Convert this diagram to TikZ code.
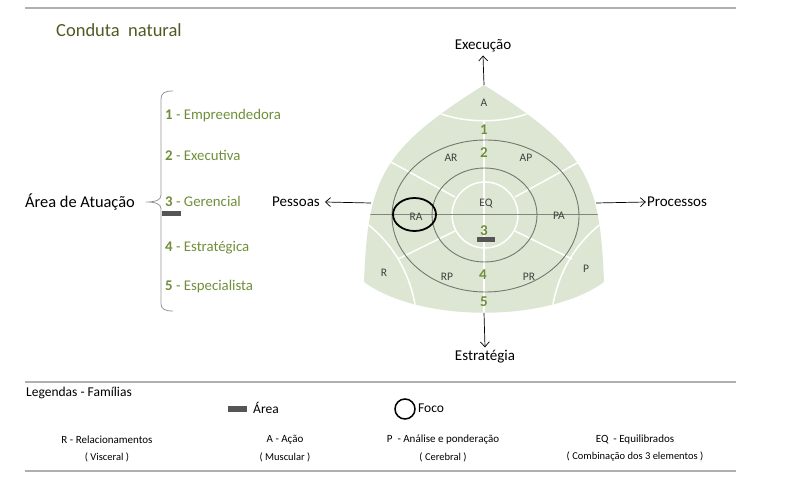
\documentclass[tikz,border=0pt]{standalone}
\usepackage{fontspec}
\setmainfont{Carlito}
\usetikzlibrary{arrows.meta}
\definecolor{shapefill}{RGB}{221,230,210}
\definecolor{lgreen}{RGB}{112,142,58}
\definecolor{dgreen}{RGB}{80,90,35}
\definecolor{ringgray}{RGB}{115,120,110}
\definecolor{rulegray}{RGB}{175,175,175}
\definecolor{bargray}{RGB}{85,85,85}
\definecolor{bracegray}{RGB}{150,150,150}
\begin{document}
\begin{tikzpicture}[x=1pt,y=-1pt,
  lab/.style={font=\fontsize{11.5}{13}\selectfont, text=black!75, inner sep=0pt},
  num/.style={font=\bfseries\fontsize{15}{16}\selectfont, text=lgreen, inner sep=0pt},
  item/.style={anchor=west, font=\fontsize{14.8}{17}\selectfont, text=lgreen, inner sep=0pt},
  axislab/.style={font=\fontsize{15}{17}\selectfont, inner sep=3pt},
  arr/.style={-{Straight Barb[length=5pt,width=9pt]}, line width=0.7pt},
  ring/.style={draw=ringgray, line width=0.9pt},
  divider/.style={draw=white, line width=1.5pt},
  rule/.style={draw=rulegray, line width=1.5pt},
  legtxt/.style={font=\fontsize{11}{13}\selectfont, inner sep=0pt},
  legsub/.style={font=\fontsize{10.5}{12}\selectfont, inner sep=0pt},
  areabar/.style={fill=bargray, draw=none}
]
\useasboundingbox (0,0) rectangle (800,486);

% rules
\draw[rule] (25,8) -- (736,8);
\draw[rule] (25,382) -- (736,382);
\draw[rule] (25,471) -- (736,471);

% title
\node[anchor=west, font=\fontsize{18.5}{21}\selectfont, text=dgreen, inner sep=0pt] (title) at (56,30) {Conduta\ \ natural};

% shape
\path[fill=shapefill] (484,85) .. controls (380,150) and (368,180) .. (364,282)
  .. controls (420,323) and (548,323) .. (604,282)
  .. controls (600,180) and (588,150) .. (484,85) -- cycle;

\begin{scope}
\clip (484,85) .. controls (380,150) and (368,180) .. (364,282)
  .. controls (420,323) and (548,323) .. (604,282)
  .. controls (600,180) and (588,150) .. (484,85) -- cycle;
\draw[divider] (428,108) .. controls (458,125) and (510,125) .. (540,108);
\draw[divider] (362,220) .. controls (390,240) and (410,270) .. (416,310);
\draw[divider] (606,220) .. controls (578,240) and (558,270) .. (552,310);
\draw[divider] (484,121) -- (484,320);
\draw[divider] (455,197) -- (380,156);
\draw[divider] (515,197) -- (590,156);
\draw[divider] (455,231) -- (398,259);
\draw[divider] (515,231) -- (572,259);
\draw[divider] (485,215) circle [radius=33pt];
\draw[draw=ringgray!90, line width=0.9pt] (350,214) -- (620,214);
\end{scope}

% rings
\draw[ring] (485.5,216) ellipse [x radius=93.5pt, y radius=76pt];
\draw[ring] (484.5,215) ellipse [x radius=52.5pt, y radius=47pt];

% labels
\node[lab] (lA) at (484,103) {A};
\node[num] (n1) at (484,130) {1};
\node[num] (n2) at (484,153) {2};
\node[lab] (lAR) at (451,158) {AR};
\node[lab] (lAP) at (526,158) {AP};
\node[lab] (lEQ) at (486,204) {EQ};
\node[lab] (lRA) at (416,217) {RA};
\node[lab] (lPA) at (559,216) {PA};
\node[num] (n3) at (484,231) {3};
\node[areabar, minimum width=18pt, minimum height=5pt, inner sep=0pt] (bar) at (486,240) {};
\node[lab] (lR) at (384,273) {R};
\node[lab] (lRP) at (447,277) {RP};
\node[num] (n4) at (483,275) {4};
\node[lab] (lPR) at (529,277) {PR};
\node[lab] (lP) at (586,269) {P};
\node[num] (n5) at (484,302) {5};

% focus
\draw[line width=1.8pt] (414.5,214.5) ellipse [x radius=21.5pt, y radius=16.5pt];

% axes
\coordinate (ctop) at (484,85);
\coordinate (cbot) at (484,313);
\coordinate (cleft) at (371,203);
\coordinate (cright) at (596,203);
\node[axislab] (exec) at (483,46) {Execução};
\node[axislab] (estr) at (485,357) {Estratégia};
\node[axislab, inner xsep=5pt] (pess) at (296,202) {Pessoas};
\node[axislab, inner xsep=1pt] (proc) at (677,202) {Processos};
\draw[arr] (ctop) -- (exec.south);
\draw[arr] (cbot) -- (estr.north);
\draw[arr] (cleft) -- (pess.east);
\draw[arr] (cright) -- (proc.west);

% left list
\node[font=\fontsize{16.4}{19}\selectfont, inner sep=0pt] (area) at (80,202) {Área de Atuação};
\draw[draw=bracegray, line width=0.8pt] (173,91) .. controls (165,91) and (161,93) .. (161,99) -- (161,195)
  .. controls (161,200) and (156,202) .. (146,202)
  .. controls (156,202) and (161,204) .. (161,209) -- (161,304)
  .. controls (161,309) and (165,311) .. (173,311);
\node[item] (i1) at (165,116) {\textbf{1} - Empreendedora};
\node[item] (i2) at (165,155) {\textbf{2} - Executiva};
\node[item] (i3) at (165,201) {\textbf{3} - Gerencial};
\node[areabar, minimum width=19pt, minimum height=5pt, inner sep=0pt] (bar2) at (171.5,213.5) {};
\node[item] (i4) at (165,248) {\textbf{4} - Estratégica};
\node[item] (i5) at (165,287) {\textbf{5} - Especialista};

% legend
\node[anchor=west, font=\fontsize{13.5}{15}\selectfont, inner sep=0pt] (leg) at (26,393) {Legendas - Famílias};
\node[areabar, minimum width=19pt, minimum height=6pt, inner sep=0pt] (legbar) at (237.5,408.5) {};
\node[anchor=west, font=\fontsize{13.5}{15}\selectfont, inner sep=0pt] (legarea) at (253,408) {Área};
\draw[line width=1.5pt] (405,409) circle [radius=10pt];
\node[anchor=west, font=\fontsize{13.5}{15}\selectfont, inner sep=0pt] (legfoco) at (418,408) {Foco};

\node[legtxt] (r1a) at (107,440) {R - Relacionamentos};
\node[legsub] (r2a) at (107,457) {( Visceral )};
\node[legtxt] (r1b) at (285,440) {A - Ação};
\node[legsub] (r2b) at (285,457) {( Muscular )};
\node[legtxt] (r1c) at (443,440) {P\ \ - Análise e ponderação};
\node[legsub] (r2c) at (443,457) {( Cerebral )};
\node[legtxt] (r1d) at (635,440) {EQ\ \ - Equilibrados};
\node[legsub] (r2d) at (635,457) {( Combinação dos 3 elementos )};
\end{tikzpicture}
\end{document}
